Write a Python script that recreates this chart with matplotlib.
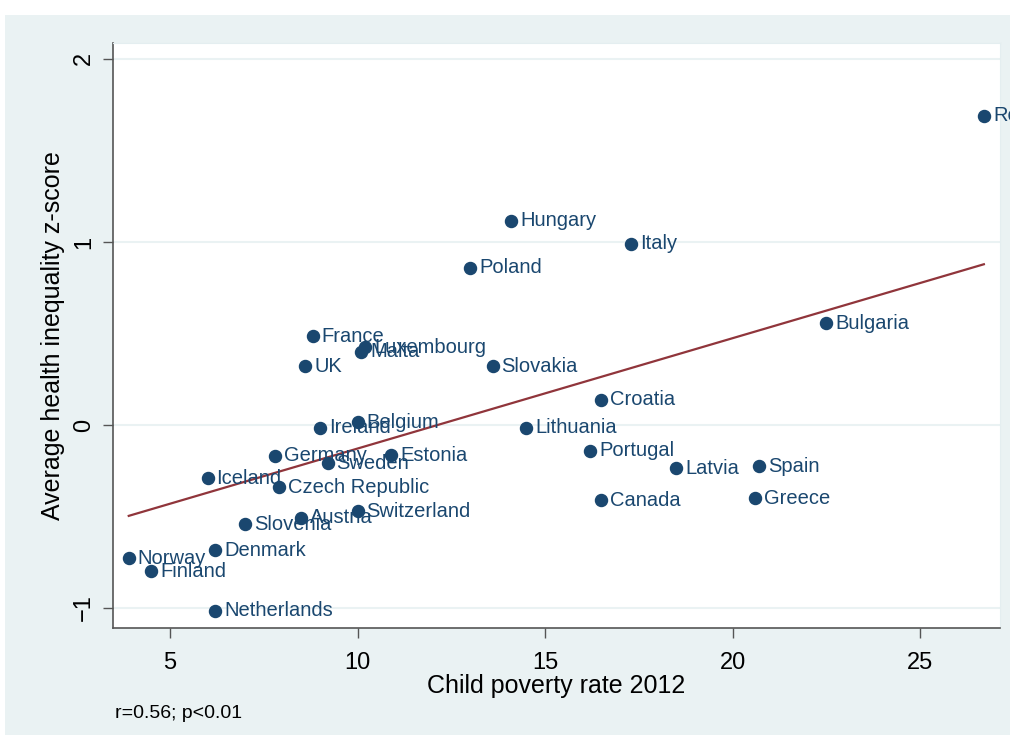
import matplotlib
matplotlib.use("Agg")
import matplotlib.pyplot as plt
import numpy as np
from matplotlib.patches import Rectangle

countries = ["Romania", "Hungary", "Italy", "Poland", "Bulgaria", "France",
             "Luxembourg", "Malta", "UK", "Slovakia", "Croatia", "Belgium",
             "Ireland", "Lithuania", "Portugal", "Germany", "Estonia", "Sweden",
             "Latvia", "Spain", "Iceland", "Czech Republic", "Canada", "Greece",
             "Switzerland", "Austria", "Slovenia", "Denmark", "Norway", "Finland",
             "Netherlands"]
child_poverty = [26.7, 14.1, 17.3, 13.0, 22.5, 8.8,
                 10.2, 10.1, 8.6, 13.6, 16.5, 10.0,
                 9.0, 14.5, 16.2, 7.8, 10.9, 9.2,
                 18.5, 20.7, 6.0, 7.9, 16.5, 20.6,
                 10.0, 8.5, 7.0, 6.2, 3.9, 4.5,
                 6.2]
health_z = [1.69, 1.115, 0.99, 0.858, 0.557, 0.486,
            0.426, 0.399, 0.322, 0.322, 0.137, 0.016,
            -0.016, -0.016, -0.142, -0.169, -0.164, -0.208,
            -0.235, -0.224, -0.29, -0.339, -0.41, -0.40,
            -0.47, -0.508, -0.541, -0.683, -0.727, -0.798,
            -1.016]

navy = "#1a476f"
maroon = "#90353b"
bg = "#eaf2f3"
font = "Liberation Sans"

fig = plt.figure(figsize=(10.1, 7.4), dpi=100)
fig.patches.append(Rectangle((5 / 1010, 5 / 740), 1005 / 1010, 720 / 740,
                             transform=fig.transFigure, facecolor=bg,
                             edgecolor="none", zorder=-10))
ax = fig.add_axes([113 / 1010, 1 - 628 / 740, 887 / 1010, 585 / 740])
ax.set_facecolor("white")

x = np.array(child_poverty)
y = np.array(health_z)
slope, icpt = np.polyfit(x, y, 1)
xs = np.array([x.min(), x.max()])
ax.plot(xs, slope * xs + icpt, color=maroon, lw=1.6, zorder=2)

ax.scatter(x, y, s=75, color=navy, zorder=3, clip_on=False)
for name, xi, yi in zip(countries, x, y):
    ax.annotate(name, (xi, yi), xytext=(6.5, 0), textcoords="offset points",
                va="center", ha="left", fontsize=14.5, color=navy,
                family=font, zorder=4, annotation_clip=False)

ax.set_xlim(3.48, 27.13)
ax.set_ylim(-1.109, 2.087)
ax.set_xticks([5, 10, 15, 20, 25])
ax.set_yticks([-1, 0, 1, 2])
ax.grid(axis="y", color=bg, lw=1.5, zorder=0)
ax.set_axisbelow(True)

for side in ("top", "right"):
    ax.spines[side].set_color("#e4eef0")
for side in ("left", "bottom"):
    ax.spines[side].set_color("#555555")
    ax.spines[side].set_linewidth(1.2)

ax.tick_params(axis="both", direction="out", length=7, width=1, color="#555555",
               labelsize=17, labelcolor="black", pad=6)
ax.tick_params(axis="x", pad=10)
for lab in ax.get_xticklabels() + ax.get_yticklabels():
    lab.set_family(font)
for lab in ax.get_yticklabels():
    lab.set_rotation(90)
    lab.set_va("center")

ax.set_xlabel("Child poverty rate 2012", fontsize=18, family=font, labelpad=0)
ax.set_ylabel("Average health inequality z-score", fontsize=18,
              family=font, labelpad=6)
fig.text(115 / 1010, 1 - 714 / 740, "r=0.56; p<0.01", fontsize=14,
         family=font, va="center", ha="left")

fig.savefig("out.png", dpi=100)
